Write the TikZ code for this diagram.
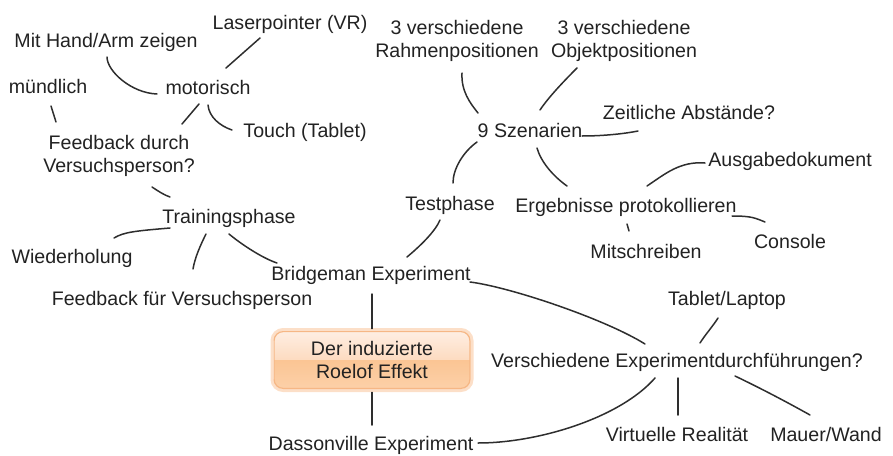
\documentclass[tikz,border=0pt]{standalone}
\usepackage{fontspec}
\setmainfont{Liberation Sans}
\usetikzlibrary{calc}

\definecolor{inkgray}{HTML}{222222}
\definecolor{linegray}{HTML}{2E2E2E}
\definecolor{rootedge}{HTML}{F6B785}
\definecolor{rootglow}{HTML}{FCDFC8}
\definecolor{roottop}{HTML}{FEEEE2}
\definecolor{rootmid}{HTML}{FDDBC0}
\definecolor{rootlow}{HTML}{FBC594}
\definecolor{rootbot}{HTML}{FCD0A8}

\begin{document}
\begin{tikzpicture}[x=0.5pt, y=-0.5pt,
  topic/.style={font=\fontsize{9.8}{11.5}\selectfont, text=inkgray,
    align=center, inner sep=0pt, anchor=base},
  branch/.style={draw=linegray, line width=0.75pt, line cap=round},
  centre/.style={rounded corners=4.5pt, minimum width=97.5pt,
    minimum height=28pt, inner sep=0pt}]
\useasboundingbox (0,0) rectangle (893,455);

% ---- central topic ----
\node[centre] (root) at (372,360) {};
\begin{scope}
  \clip[rounded corners=4.5pt] (root.north west) rectangle (root.south east);
  \shade[top color=roottop, bottom color=rootmid]
    (root.north west) rectangle (root.east);
  \shade[top color=rootlow, bottom color=rootbot]
    (root.west) rectangle (root.south east);
\end{scope}
\draw[rootglow, line width=1.6pt, rounded corners=5.5pt]
  ($(root.north west)+(-2,-2)$) rectangle ($(root.south east)+(2,2)$);
\draw[rootedge, line width=0.6pt, rounded corners=4.5pt]
  (root.north west) rectangle (root.south east);
\node[topic] (roottxt) at (372,378) {Der induzierte\\Roelof Effekt};

% ---- topics (two-line topics are placed by their last baseline) ----
\node[topic] (hand)    at (106,47)  {Mit Hand/Arm zeigen};
\node[topic] (laser)   at (290,29)  {Laserpointer (VR)};
\node[topic] (mund)    at (48,93)   {mündlich};
\node[topic] (mot)     at (208,94)  {motorisch};
\node[topic] (touch)   at (305,137) {Touch (Tablet)};
\node[topic] (fbd)     at (119,172) {Feedback durch\\Versuchsperson?};
\node[topic] (train)   at (229,223) {Trainingsphase};
\node[topic] (wied)    at (72,263)  {Wiederholung};
\node[topic] (fbf)     at (182,305) {Feedback für Versuchsperson};
\node[topic] (bridge)  at (371,280) {Bridgeman Experiment};
\node[topic] (dass)    at (371,450) {Dassonville Experiment};
\node[topic] (rahmen)  at (457,57)  {3 verschiedene\\Rahmenpositionen};
\node[topic] (objekt)  at (624,57)  {3 verschiedene\\Objektpositionen};
\node[topic] (zeit)    at (689,119) {Zeitliche Abstände?};
\node[topic] (szen)    at (530,137) {9 Szenarien};
\node[topic] (ausg)    at (790,166) {Ausgabedokument};
\node[topic] (test)    at (450,210) {Testphase};
\node[topic] (ergeb)   at (626,212) {Ergebnisse protokollieren};
\node[topic] (mitsch)  at (646,258) {Mitschreiben};
\node[topic] (console) at (790,248) {Console};
\node[topic] (tablet)  at (727,305) {Tablet/Laptop};
\node[topic] (versch)  at (677,367) {Verschiedene Experimentdurchführungen?};
\node[topic] (virt)    at (677,441) {Virtuelle Realität};
\node[topic] (mauer)   at (826,441) {Mauer/Wand};

% ---- branches (end points given relative to each topic's baseline) ----
\draw[branch] ($(hand.base)+(1,10)$) .. controls +(0,14) and +(-26,-1) .. ($(mot.base)+(-51,0)$);
\draw[branch] ($(laser.base)+(-30,9)$) -- ($(mot.base)+(18,-26)$);
\draw[branch] ($(mund.base)+(3,13)$) -- ($(fbd.base)+(-63,-50)$);
\draw[branch] ($(mot.base)+(-9,10)$) -- ($(fbd.base)+(63,-48)$);
\draw[branch] ($(mot.base)+(0,11)$) .. controls +(1,12) and +(-12,-4) .. ($(touch.base)+(-73,-7)$);
\draw[branch] ($(fbd.base)+(33,15)$) .. controls +(6,4) and +(-6,-2) .. ($(train.base)+(-59,-26)$);
\draw[branch] ($(train.base)+(-59,5)$) .. controls +(-35,3) and +(10,-6) .. ($(wied.base)+(42,-25)$);
\draw[branch] ($(train.base)+(-23,11)$) .. controls +(-5,10) and +(2,-12) .. ($(fbf.base)+(11,-36)$);
\draw[branch] ($(train.base)+(0,11)$) .. controls +(12,10) and +(-15,-5) .. ($(bridge.base)+(-94,-17)$);
\draw[branch] ($(test.base)+(-10,10)$) .. controls +(-5,12) and +(12,-10) .. ($(bridge.base)+(36,-23)$);
\draw[branch] ($(bridge.base)+(99,2)$) .. controls +(40,5) and +(-40,-25) .. ($(versch.base)+(-32,-23)$);
\draw[branch] ($(tablet.base)+(-9,13)$) .. controls +(-5,8) and +(5,-8) .. ($(versch.base)+(23,-24)$);
\draw[branch] ($(versch.base)+(-22,11)$) .. controls +(-35,40) and +(60,0) .. ($(dass.base)+(107,-7)$);
\draw[branch] ($(versch.base)+(1,11)$) -- ($(virt.base)+(1,-26)$);
\draw[branch] ($(versch.base)+(58,9)$) .. controls +(25,12) and +(-25,-14) .. ($(mauer.base)+(-16,-26)$);
\draw[branch] ($(bridge.base)+(1,14)$) -- ($(root.north)+(0,-3)$);
\draw[branch] ($(root.south)+(0,4)$) -- ($(dass.base)+(1,-25)$);
\draw[branch] ($(rahmen.base)+(5,16)$) .. controls +(-1,18) and +(-8,-10) .. ($(szen.base)+(-52,-24)$);
\draw[branch] ($(objekt.base)+(-47,11)$) .. controls +(-15,15) and +(8,-12) .. ($(szen.base)+(10,-27)$);
\draw[branch] ($(szen.base)+(52,-1)$) .. controls +(20,0) and +(-15,3) .. ($(zeit.base)+(-51,12)$);
\draw[branch] ($(szen.base)+(-53,5)$) .. controls +(-14,10) and +(0,-14) .. ($(test.base)+(3,-27)$);
\draw[branch] ($(szen.base)+(7,11)$) .. controls +(4,14) and +(-14,-10) .. ($(ergeb.base)+(-59,-26)$);
\draw[branch] ($(ergeb.base)+(21,-26)$) .. controls +(18,-12) and +(-25,-2) .. ($(ausg.base)+(-85,-3)$);
\draw[branch] ($(ergeb.base)+(1,12)$) -- ($(mitsch.base)+(-17,-27)$);
\draw[branch] ($(ergeb.base)+(106,4)$) .. controls +(20,0) and +(-10,-4) .. ($(console.base)+(-25,-26)$);
\end{tikzpicture}
\end{document}
